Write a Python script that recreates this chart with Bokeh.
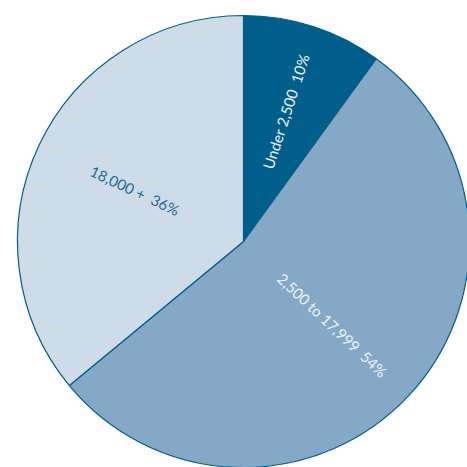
import math
from bokeh.plotting import figure
from bokeh.models import ColumnDataSource
from bokeh.core.properties import value
from bokeh.embed import file_html
from bokeh.resources import INLINE

categories = ["Under 2,500", "2,500 to 17,999", "18,000 +"]
shares = [10, 54, 36]
colors = ["#005e8a", "#85a8c6", "#cedce7"]
text_colors = ["#eef3f7", "#eef3f7", "#1f6c9a"]
label_radius = [137, 122, 120]

W = H = 467
cx, cy, R = 243, 226, 226

total = sum(shares)
starts, ends, mids = [], [], []
a = math.pi / 2
for s in shares:
    sweep = 2 * math.pi * s / total
    starts.append(a)
    ends.append(a - sweep)
    mids.append(a - sweep / 2)
    a -= sweep

p = figure(width=W, height=H, x_range=(0, W), y_range=(0, H),
           output_backend="svg", toolbar_location=None, min_border=0)
p.axis.visible = False
p.grid.visible = False
p.outline_line_color = None
p.background_fill_color = "white"

src = ColumnDataSource(dict(x=[cx] * 3, y=[cy] * 3, start=starts, end=ends, color=colors))
p.wedge(x="x", y="y", radius=R, start_angle="end", end_angle="start",
        direction="anticlock", fill_color="color", line_color="#005e8a",
        line_width=1.2, source=src)

lx, ly, lt, la, lc = [], [], [], [], []
for cat, s, m, r, tc in zip(categories, shares, mids, label_radius, text_colors):
    lx.append(cx + r * math.cos(m))
    ly.append(cy + r * math.sin(m))
    lt.append(f"{cat}\u00a0 {s}%")
    ang = m
    if math.cos(ang) < 0:
        ang += math.pi
    la.append(ang)
    lc.append(tc)

lsrc = ColumnDataSource(dict(x=lx, y=ly, text=lt, angle=la, color=lc))
p.text(x="x", y="y", text="text", angle="angle", text_color="color",
       text_font=value("Lato"), text_font_size="15px", text_font_style="normal",
       text_align="center", text_baseline="middle", source=lsrc)

open("out.html", "w").write(file_html(p, INLINE))
